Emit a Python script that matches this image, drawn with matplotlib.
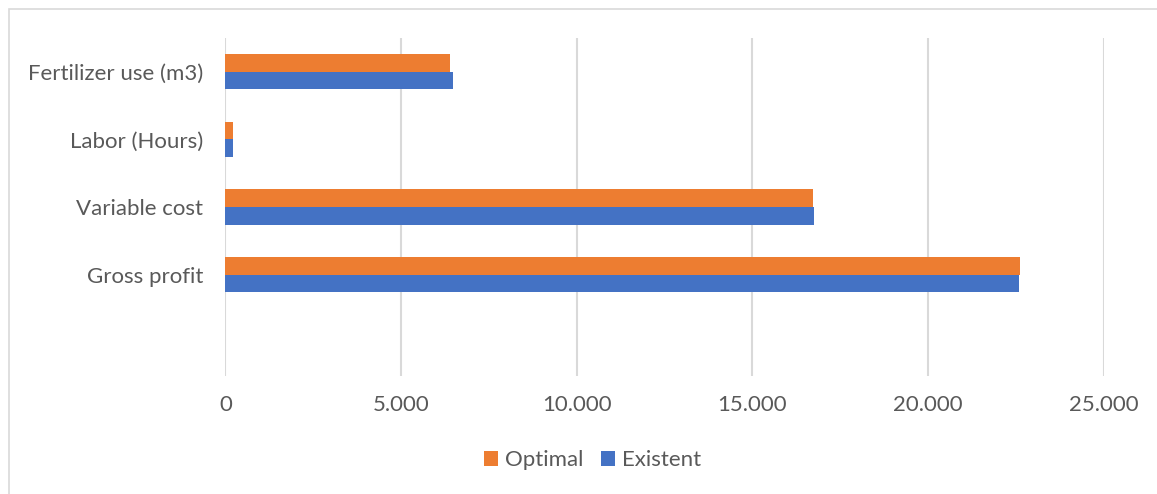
import numpy as np
import matplotlib.pyplot as plt
from matplotlib.patches import Rectangle

plt.rcParams['font.family'] = ['Lato', 'DejaVu Sans']

# data (bottom to top)
categories = ['Gross profit', 'Variable cost', 'Labor (Hours)', 'Fertilizer use (m3)']
existent = [22590, 16760, 200, 6480]
optimal = [22610, 16720, 200, 6390]
xticks = [0, 5000, 10000, 15000, 20000, 25000]
xtick_labels = ['0', '5.000', '10.000', '15.000', '20.000', '25.000']

orange = '#ED7D31'
blue = '#4472C4'
text_color = '#595959'
grid_color = '#D9D9D9'

fig = plt.figure(figsize=(11.57, 4.94), dpi=100)
# chart frame (only top and left edges fall inside the image)
fig.patches.append(Rectangle((9 / 1157, -0.1), 1.0, 1.1 - 9 / 494, transform=fig.transFigure,
                             fill=False, edgecolor='#D9D9D9', linewidth=1.2))

ax = fig.add_axes([0.1949, 0.2389, 0.7589, 0.6841])

y = np.arange(len(categories))
h = 0.26
ax.barh(y + h / 2, optimal, height=h, color=orange, label='Optimal', zorder=3)
ax.barh(y - h / 2, existent, height=h, color=blue, label='Existent', zorder=3)

ax.set_xlim(0, 25000)
ax.set_ylim(-1.5, 3.5)
ax.set_xticks(xticks)
ax.set_xticklabels(xtick_labels)
ax.set_yticks(y)
ax.set_yticklabels(categories)
ax.tick_params(axis='both', length=0, labelsize=16, colors=text_color)
ax.tick_params(axis='x', pad=14)
ax.tick_params(axis='y', pad=16)
ax.grid(axis='x', color=grid_color, linewidth=1.5, zorder=0)
for s in ax.spines.values():
    s.set_visible(False)

ax.legend(loc='center', bbox_to_anchor=(0.512, 0.068), bbox_transform=fig.transFigure,
          ncol=2, frameon=False, fontsize=16, labelcolor=text_color,
          handlelength=0.65, handleheight=0.65, handletextpad=0.3, columnspacing=0.8)

fig.savefig('out.png', dpi=100)
